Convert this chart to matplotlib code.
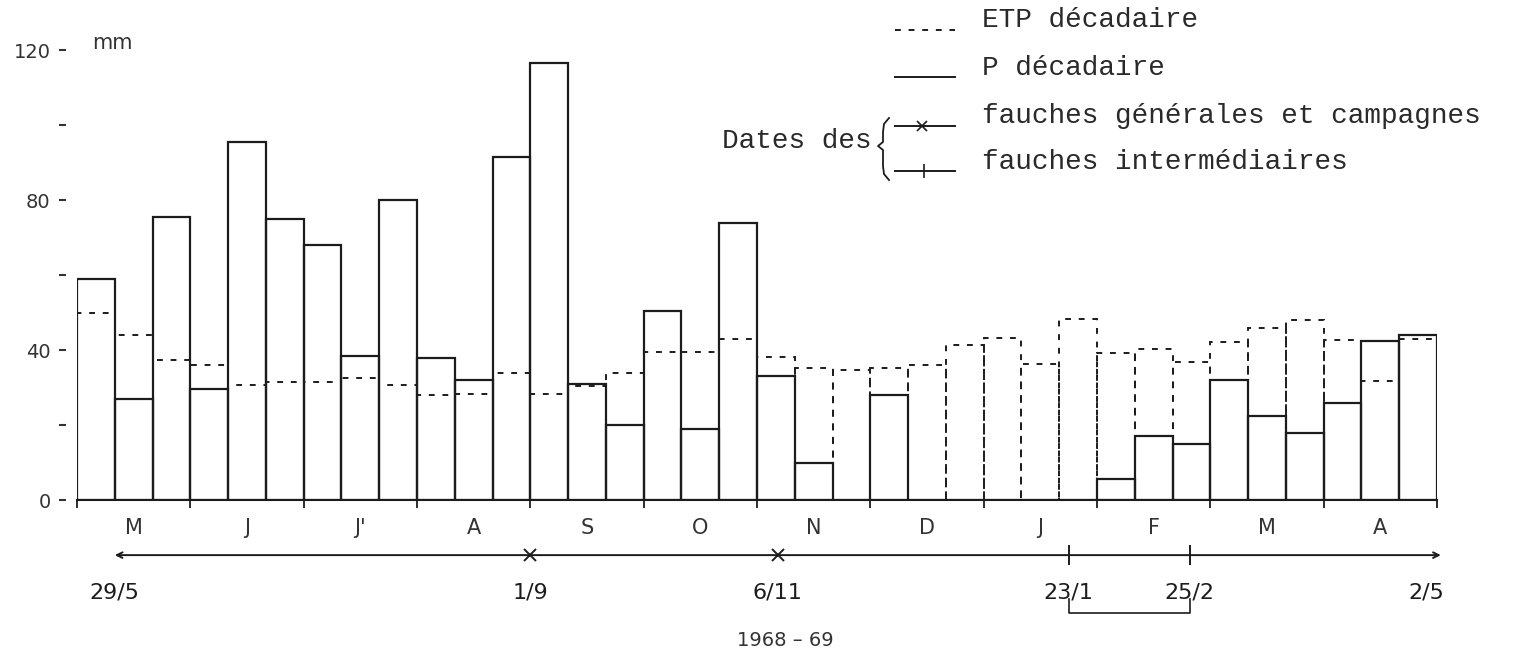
import matplotlib
matplotlib.use("Agg")
import matplotlib.pyplot as plt
from matplotlib.lines import Line2D
import numpy as np

# 36 décades, de mai 1968 à avril 1969
months = ["M", "J", "J'", "A", "S", "O", "N", "D", "J", "F", "M", "A"]

# P décadaire (mm)
p_dec = [59, 27, 75.5, 29.5, 95.5, 75, 68, 38.5, 80, 38, 32, 91.5,
         116.5, 31, 20, 50.5, 19, 74, 33, 10, 0, 28, 0, 0,
         0, 0, 0, 5.5, 17, 15, 32, 22.5, 18, 26, 42.5, 44]

# ETP décadaire (mm)
etp_dec = [50, 44, 37.3, 36, 30.7, 31.5, 31.5, 32.5, 30.7, 28, 28.3, 34,
           28.3, 30.4, 34, 39.6, 39.6, 43, 38.2, 35.1, 34.7, 35.2, 36, 41.3,
           43.1, 36.4, 48.2, 39.1, 40.2, 36.9, 42.2, 45.8, 48, 42.7, 31.7, 43]

# dates des fauches, position en décades depuis le 1er mai
cut_labels = ["29/5", "1/9", "6/11", "23/1", "25/2", "2/5"]
cut_pos = [1.0, 12.0, 18.55, 26.25, 29.45, 36.1]
cut_kind = ["", "gen", "gen", "int", "int", ""]

ink = "#1c1c1c"
W, H = 1517, 658

fig = plt.figure(figsize=(W / 100, H / 100), dpi=100)
ax = fig.add_axes([77 / W, (H - 500) / H, 1360 / W, 450 / H])

x = np.arange(len(p_dec))
ax.bar(x, etp_dec, width=1, align="edge", fill=False, edgecolor=ink,
       linewidth=1.4, linestyle=(0, (3, 4)), zorder=2)
ax.bar(x, p_dec, width=1, align="edge", fill=False, edgecolor=ink,
       linewidth=1.6, zorder=3)

ax.set_xlim(0, 36)
ax.set_ylim(0, 120)
for s in ["top", "right"]:
    ax.spines[s].set_visible(False)
ax.spines["left"].set_position(("outward", 8))
ax.spines["left"].set_visible(False)
ax.spines["bottom"].set_linewidth(1.5)
ax.spines["bottom"].set_color(ink)

ax.set_yticks(np.arange(0, 121, 20))
ax.set_yticklabels(["0", "", "40", "", "80", "", "120"])
ax.tick_params(axis="y", length=5, width=1.5, pad=6, labelsize=14,
               colors="#333333")

ax.set_xticks(np.arange(0, 37, 3))
ax.set_xticklabels([])
ax.tick_params(axis="x", which="major", length=6, width=1.3, color=ink)
ax.set_xticks(np.arange(1.5, 36, 3), minor=True)
ax.set_xticklabels(months, minor=True)
ax.tick_params(axis="x", which="minor", length=0, pad=13, labelsize=15,
               labelcolor="#333333")

ax.text(0.4, 122, "mm", fontsize=15, color="#333333", va="center",
        clip_on=False)

# axe des dates de fauche
y_arrow = -14.7
ax.annotate("", xy=(cut_pos[-1], y_arrow), xytext=(cut_pos[0], y_arrow),
            arrowprops=dict(arrowstyle="<->", lw=1.4, color=ink,
                            shrinkA=0, shrinkB=0),
            annotation_clip=False)
for pos, lab, kind in zip(cut_pos, cut_labels, cut_kind):
    if kind == "gen":
        ax.plot(pos, y_arrow, marker="x", ms=9, mew=1.4, color=ink,
                clip_on=False)
    elif kind == "int":
        ax.plot(pos, y_arrow, marker="|", ms=14, mew=1.4, color=ink,
                clip_on=False)
    ha = "right" if lab == cut_labels[-1] else "center"
    xx = pos + 0.1 if ha == "right" else pos
    ax.text(xx, -24.7, lab, fontsize=16, ha=ha, va="center", color=ink,
            clip_on=False)

ints = [p for p, k in zip(cut_pos, cut_kind) if k == "int"]
ax.plot([ints[0], ints[0], ints[1], ints[1]], [-26.5, -30, -30, -26.5],
        color=ink, lw=1.2, clip_on=False)

fig.text(785 / W, 1 - 641 / H, "1968 – 69", fontsize=14, ha="center",
         va="center", color="#333333")

# légende
mono = "Liberation Mono"
leg_text = ["ETP décadaire", "P décadaire",
            "fauches générales et campagnes", "fauches intermédiaires"]
text_y = [20, 68, 116, 162]
line_y = [30, 77, 126, 171]
for i, (t, ty, ly) in enumerate(zip(leg_text, text_y, line_y)):
    fig.text(982 / W, 1 - ty / H, t, family=mono, fontsize=20,
             va="center", color="#2a2a2a")
    ls = (0, (3, 4)) if i == 0 else "-"
    fig.add_artist(Line2D([895 / W, 955 / W], [1 - ly / H, 1 - ly / H],
                          transform=fig.transFigure, color=ink, lw=1.4,
                          linestyle=ls))
    if i == 2:
        fig.add_artist(Line2D([922 / W], [1 - ly / H], marker="x", ms=7,
                              mew=1.2, color=ink,
                              transform=fig.transFigure))
    if i == 3:
        fig.add_artist(Line2D([924 / W], [1 - ly / H], marker="|", ms=10,
                              mew=1.2, color=ink,
                              transform=fig.transFigure))

fig.text(872 / W, 1 - 141 / H, "Dates des", family=mono, fontsize=20,
         ha="right", va="center", color="#2a2a2a")

# accolade dessinée
bx = np.array([889, 884, 883, 883, 878, 883, 883, 884, 889])
by = np.array([118, 124, 132, 142, 146, 150, 166, 174, 180])
fig.add_artist(Line2D(bx / W, 1 - by / H, transform=fig.transFigure,
                      color=ink, lw=1.3))

fig.savefig("out.png", dpi=100, facecolor="white")
